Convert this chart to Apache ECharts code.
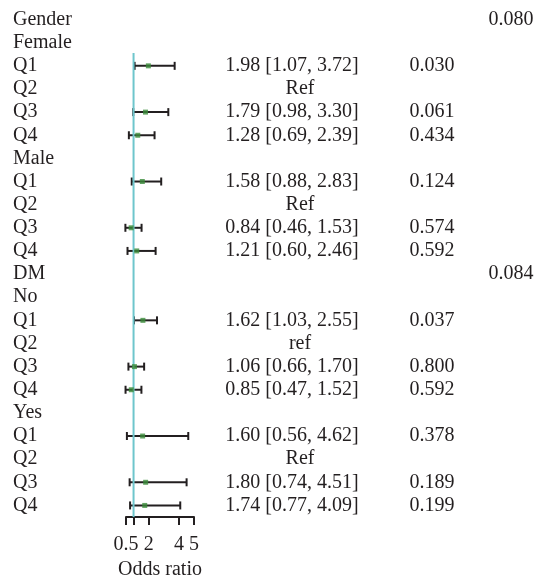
<!DOCTYPE html>
<html>
<head>
<meta charset="utf-8">
<script src="https://cdn.jsdelivr.net/npm/echarts@6/dist/echarts.min.js"></script>
<style>
  html, body { margin: 0; padding: 0; background: #fff; }
  #chart { width: 537px; height: 580px; }
</style>
</head>
<body>
<div id="chart"></div>
<script>
// one entry per row, top to bottom
const rowLabels = ['Gender', 'Female', 'Q1', 'Q2', 'Q3', 'Q4', 'Male', 'Q1', 'Q2', 'Q3', 'Q4',
  'DM', 'No', 'Q1', 'Q2', 'Q3', 'Q4', 'Yes', 'Q1', 'Q2', 'Q3', 'Q4']
const oddsRatio = [null, null, 1.98, null, 1.79, 1.28, null, 1.58, null, 0.84, 1.21,
  null, null, 1.62, null, 1.06, 0.85, null, 1.60, null, 1.80, 1.74]
const ciLower = [null, null, 1.07, null, 0.98, 0.69, null, 0.88, null, 0.46, 0.60,
  null, null, 1.03, null, 0.66, 0.47, null, 0.56, null, 0.74, 0.77]
const ciUpper = [null, null, 3.72, null, 3.30, 2.39, null, 2.83, null, 1.53, 2.46,
  null, null, 2.55, null, 1.70, 1.52, null, 4.62, null, 4.51, 4.09]
const refText = ['', '', '', 'Ref', '', '', '', '', 'Ref', '', '',
  '', '', '', 'ref', '', '', '', '', 'Ref', '', '']
const pValues = ['', '', '0.030', '', '0.061', '0.434', '', '0.124', '', '0.574', '0.592',
  '', '', '0.037', '', '0.800', '0.592', '', '0.378', '', '0.189', '0.199']
const pInteraction = ['0.080', '', '', '', '', '', '', '', '', '', '',
  '0.084', '', '', '', '', '', '', '', '', '', '']
const xTicks = [0.5, 1, 2, 4, 5]
const xTickLabels = [0.5, 2, 4, 5]
const refLine = [1, 1]
const refRows = [1.45, 21.5]

const font = '20px "Liberation Serif", serif'
const textColor = '#231f20'

const fmt = v => v.toFixed(2)
const ciText = oddsRatio.map((v, i) => v == null ? '' : `${fmt(v)} [${fmt(ciLower[i])}, ${fmt(ciUpper[i])}]`)

// text column drawn at a fixed x, row from the y axis
function textSeries(texts, x, align) {
  return {
    type: 'custom',
    silent: true,
    data: texts.map((t, i) => [0.5, i, t]).filter(d => d[2] !== ''),
    renderItem(params, api) {
      const y = api.coord([0.5, api.value(1)])[1]
      return {
        type: 'text',
        x: x,
        y: y,
        style: {
          text: texts[api.value(1)],
          font: font,
          fill: textColor,
          align: align,
          verticalAlign: 'middle'
        }
      }
    }
  }
}

const chart = echarts.init(document.getElementById('chart'))
chart.setOption({
  animation: false,
  grid: { left: 126, right: 343, top: 8, bottom: 63, outerBoundsMode: 'none' },
  xAxis: {
    type: 'value',
    position: 'bottom',
    min: 0.5,
    max: 5,
    splitLine: { show: false },
    axisLine: { onZero: false, lineStyle: { color: '#231f20', width: 2 } },
    axisTick: { customValues: xTicks, length: 8, lineStyle: { color: '#231f20', width: 2 } },
    axisLabel: { customValues: xTickLabels, fontFamily: 'Liberation Serif', fontSize: 20, color: textColor, margin: 18 },
    name: 'Odds ratio',
    nameLocation: 'middle',
    nameGap: 43,
    nameTextStyle: { fontFamily: 'Liberation Serif', fontSize: 20, color: textColor }
  },
  yAxis: {
    type: 'value',
    inverse: true,
    min: -0.5,
    max: 21.5,
    show: false
  },
  series: [
    {
      type: 'line',
      silent: true,
      symbol: 'none',
      data: refLine.map((v, i) => [v, refRows[i]]),
      lineStyle: { color: '#6ec6cc', width: 2 }
    },
    {
      type: 'custom',
      silent: true,
      data: oddsRatio.map((v, i) => [ciLower[i], ciUpper[i], i]).filter(d => d[0] != null),
      renderItem(params, api) {
        const a = api.coord([api.value(0), api.value(2)])
        const b = api.coord([api.value(1), api.value(2)])
        const h = 4
        const style = { stroke: '#231f20', lineWidth: 2 }
        return {
          type: 'group',
          children: [
            { type: 'line', shape: { x1: a[0], y1: a[1], x2: b[0], y2: b[1] }, style },
            { type: 'line', shape: { x1: a[0], y1: a[1] - h, x2: a[0], y2: a[1] + h }, style },
            { type: 'line', shape: { x1: b[0], y1: b[1] - h, x2: b[0], y2: b[1] + h }, style }
          ]
        }
      }
    },
    {
      type: 'scatter',
      silent: true,
      symbol: 'rect',
      symbolSize: 5,
      itemStyle: { color: '#3b8c3b' },
      data: oddsRatio.map((v, i) => [v, i]).filter(d => d[0] != null),
      z: 5
    },
    textSeries(rowLabels, 13, 'left'),
    textSeries(ciText, 292, 'center'),
    textSeries(refText, 300, 'center'),
    textSeries(pValues, 432, 'center'),
    textSeries(pInteraction, 511, 'center')
  ]
})
</script>
</body>
</html>
